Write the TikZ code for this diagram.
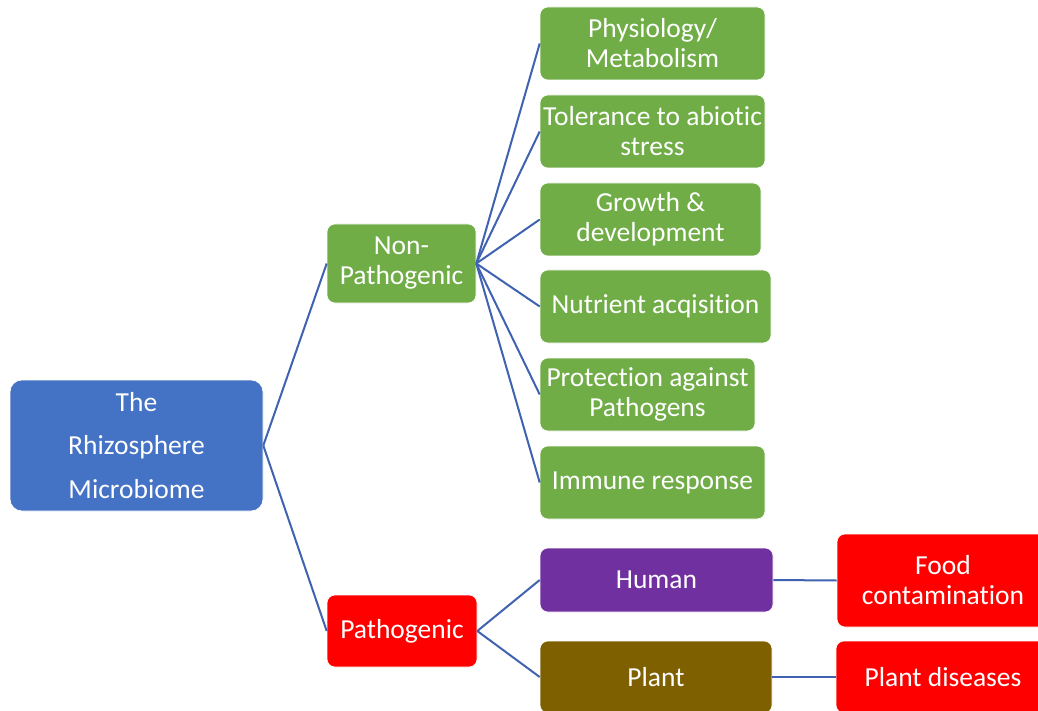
\documentclass[tikz,border=0pt]{standalone}
\usepackage{fontspec}
\setmainfont[Ligatures=NoCommon]{Carlito}
\definecolor{rootblue}{HTML}{4472C4}
\definecolor{boxgreen}{HTML}{70AD47}
\definecolor{boxred}{HTML}{FF0000}
\definecolor{boxpurple}{HTML}{7030A0}
\definecolor{boxolive}{HTML}{7F6000}
\definecolor{linkblue}{HTML}{3F63B0}
\tikzset{
  box/.style={rectangle, rounded corners=8pt, inner sep=0pt, align=center, text=white,
    font=\fontsize{27.5pt}{30pt}\selectfont, draw=white, line width=0.6pt},
  gbox/.style={box, fill=boxgreen},
  rbox/.style={box, fill=boxred},
  link/.style={draw=linkblue, line width=2pt},
}
\begin{document}
\begin{tikzpicture}[x=1pt,y=-1pt]
\clip (0,0) rectangle (1038,711);
\fill[white] (0,0) rectangle (1038,711);
% root
\node[box, fill=rootblue, rounded corners=12pt, minimum width=253pt, minimum height=131pt,
  font=\fontsize{27.5pt}{43.5pt}\selectfont] (root) at (136.5,445.5) {The\\Rhizosphere\\Microbiome};
% level 1
\node[gbox, minimum width=149pt, minimum height=79pt] (np) at (401.5,263.5) {Non-\\Pathogenic};
\node[rbox, minimum width=150pt, minimum height=72pt] (pa) at (402,631) {Pathogenic};
% green leaves
\node[gbox, minimum width=225pt, minimum height=73pt] (g1) at (652.5,43.5) {Physiology/\\Metabolism};
\node[gbox, minimum width=225pt, minimum height=73pt] (g2) at (652.5,131.5) {Tolerance to abiotic\\stress};
\node[gbox, minimum width=221pt, minimum height=73pt] (g3) at (650.5,219.5) {Growth \&\\development};
\node[gbox, minimum width=231pt, minimum height=73pt] (g4) at (655.5,306.5) {Nutrient acqisition};
\node[gbox, minimum width=215pt, minimum height=73pt] (g5) at (647.5,394.5) {Protection against\\Pathogens};
\node[gbox, minimum width=225pt, minimum height=73pt] (g6) at (652.5,482.5) {Immune response};
% pathogenic branch
\node[box, fill=boxpurple, minimum width=233pt, minimum height=64pt] (hu) at (656.5,580) {Human};
\node[box, fill=boxolive, minimum width=232pt, minimum height=72pt] (pl) at (656,677) {Plant};
\node[rbox, minimum width=212pt, minimum height=93pt] (fc) at (943,580.5) {Food\\contamination};
\node[rbox, minimum width=214pt, minimum height=72pt] (pd) at (943,677) {Plant diseases};
% connectors
\draw[link] (root.east) -- (np.west);
\draw[link] (root.east) -- (pa.west);
\foreach \g in {g1,g2,g3,g4,g5,g6}{\draw[link] (np.east) -- (\g.west);}
\draw[link] (pa.east) -- (hu.west);
\draw[link] (pa.east) -- (pl.west);
\draw[link] (hu.east) -- (fc.west);
\draw[link] (pl.east) -- (pd.west);
\end{tikzpicture}
\end{document}
